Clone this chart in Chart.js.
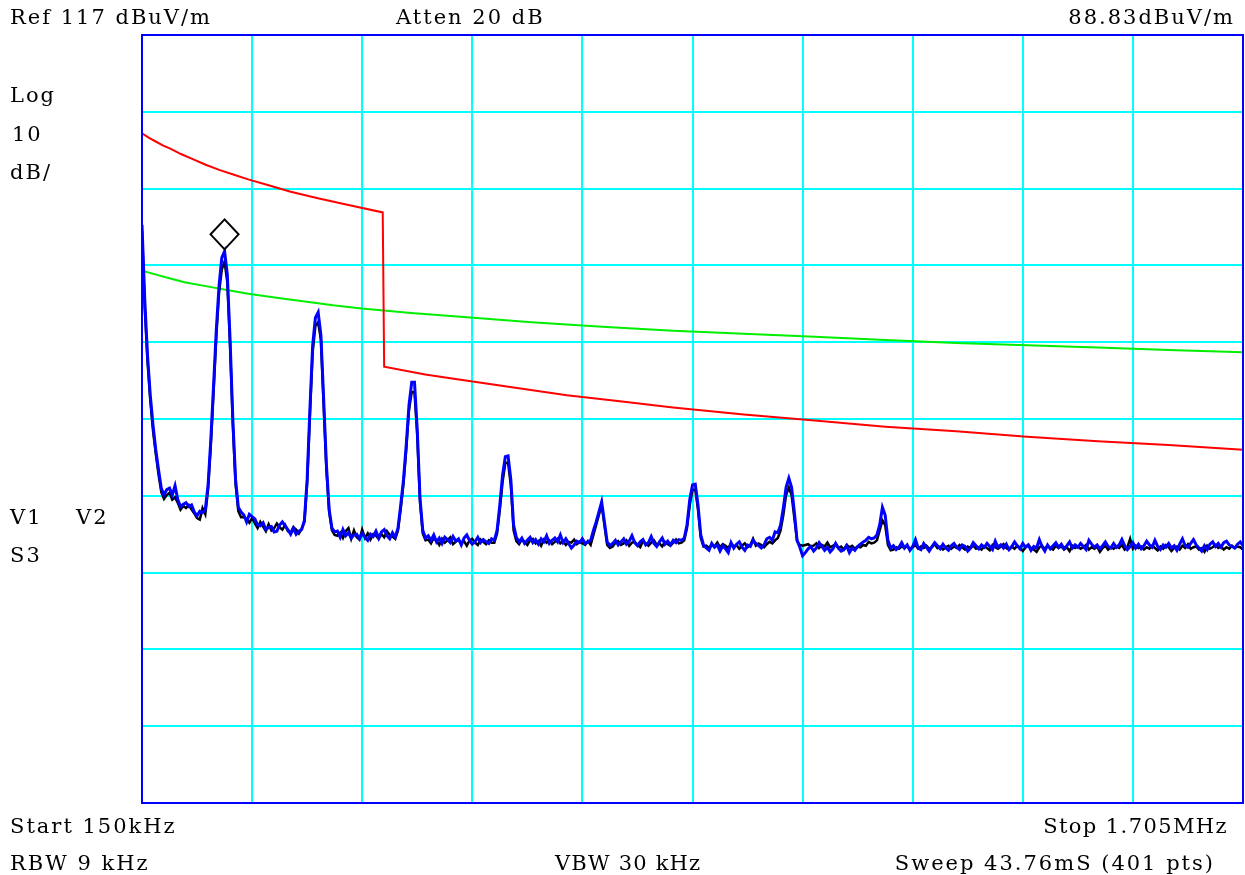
<!DOCTYPE html>
<html>
<head>
<meta charset="utf-8">
<title>Conducted emission scan</title>
<script src="https://cdn.jsdelivr.net/npm/chart.js@4.4.0/dist/chart.umd.min.js"></script>
<style>
  body { margin: 0; background: #fff; }
  #wrap { position: relative; width: 1245px; height: 875px; }
  #plot { position: absolute; left: 0; top: 0; }
  .lbl { position: absolute; font-family: "DejaVu Serif", serif; font-size: 21px; line-height: 21px;
         letter-spacing: 2px; white-space: pre; color: #000; }
</style>
</head>
<body>
<div id="wrap">
  <canvas id="plot" width="1245" height="875"></canvas>
  <div class="lbl" style="left:10px;top:7px">Ref 117 dBuV/m</div>
  <div class="lbl" style="left:396px;top:7px">Atten 20 dB</div>
  <div class="lbl" style="right:10px;top:7px">88.83dBuV/m</div>
  <div class="lbl" style="left:10px;top:85px">Log</div>
  <div class="lbl" style="left:12px;top:124px">10</div>
  <div class="lbl" style="left:10px;top:162px">dB/</div>
  <div class="lbl" style="left:10px;top:507px">V1</div>
  <div class="lbl" style="left:76px;top:507px">V2</div>
  <div class="lbl" style="left:10px;top:545px">S3</div>
  <div class="lbl" style="left:10px;top:816px">Start 150kHz</div>
  <div class="lbl" style="right:17px;top:816px;letter-spacing:1.4px">Stop 1.705MHz</div>
  <div class="lbl" style="left:10px;top:853px">RBW 9 kHz</div>
  <div class="lbl" style="left:555px;top:853px;letter-spacing:1.2px">VBW 30 kHz</div>
  <div class="lbl" style="right:30px;top:853px">Sweep 43.76mS (401 pts)</div>
</div>
<script>
// sweep settings (kHz) and display range (dBuV/m)
const startKHz = 150;
const stopKHz = 1705;
const sweepPts = 401;
const refLevel = 117;
const bottomLevel = 17;

// vertical grid lines: 10 divisions across the span
const gridFreqs = [150, 305.5, 461, 616.5, 772, 927.5, 1083, 1238.5, 1394, 1549.5, 1705];

// marker on the first harmonic
const markerIndex = 30;
const markerLevel = 88.83;

// trace 2 (blue), one value per sweep point
const trace2 = [
  92.3, 82.5, 75.3, 70.1, 66.2, 63.0, 60.4, 58.0, 57.1,
  57.8, 58.0, 57.1, 58.3, 56.5, 55.6, 55.9, 56.1, 55.6, 55.8, 54.9, 54.4, 55.0, 54.8,
  55.2, 58.4, 64.3, 71.4, 78.6, 84.4, 88.0, 88.83, 85.8, 77.3, 66.9, 59.1, 55.5, 54.9,
  54.5, 53.6, 54.6, 54.3, 54.0, 53.2, 53.1, 53.5, 52.6, 52.9, 53.0, 52.3, 52.4, 53.2, 53.6, 53.1, 52.6, 52.0, 52.8, 52.0, 52.4, 52.6,
  53.8, 59.1, 68.2, 76.6, 80.2, 80.9, 77.9, 69.5, 61.0, 55.2, 52.8, 52.3,
  52.4, 51.6, 52.6, 51.8, 52.2, 51.5, 51.9, 52.0, 51.4, 52.1, 51.6, 51.2, 52.0, 51.7, 52.4, 51.5, 52.3, 52.6, 51.8, 51.4, 52.2,
  51.6, 52.8, 55.8, 59.1, 63.6, 68.8, 71.8, 71.8, 65.6, 56.7, 52.5, 51.5,
  51.8, 51.2, 51.9, 51.0, 51.5, 50.8, 51.6, 51.3, 50.9, 51.7, 51.1, 51.4, 50.6, 51.5, 51.9, 51.2, 50.7, 51.0, 51.6, 50.9, 51.3, 51.0, 50.8, 51.4,
  51.2, 52.5, 55.8, 59.7, 62.1, 62.2, 59.1, 53.2, 51.6,
  51.0, 51.5, 50.8, 51.2, 51.6, 50.9, 51.3, 50.7, 51.4, 51.0, 51.8, 50.8, 51.2, 51.5, 51.0, 51.9, 50.9, 51.4, 50.8, 50.2, 50.6, 51.1, 50.9, 51.4, 50.8, 51.0,
  51.2, 52.5, 53.6, 54.9, 56.2, 53.6, 51.0, 50.5,
  50.8, 51.2, 50.6, 51.0, 51.4, 50.7, 51.1, 51.8, 50.9, 50.5, 51.0, 51.3, 50.6, 50.9, 51.7, 50.8, 50.4, 51.0, 51.5, 50.7, 51.1, 50.6, 51.2, 50.9, 51.3,
  51.2, 51.5, 53.2, 56.5, 58.4, 58.5, 55.8, 51.9, 50.6,
  50.2, 49.9, 50.8, 50.3, 50.6, 49.8, 50.5, 50.1, 49.6, 50.9, 50.2, 50.7, 51.0, 50.3, 49.9, 50.6, 50.4, 51.2, 50.8, 50.5, 50.2, 50.6, 51.4, 51.6,
  51.2, 52.3, 52.2, 53.2, 55.4, 58.1, 59.3, 58.1, 54.9, 51.2, 50.3, 49.2,
  49.6, 50.1, 50.4, 49.8, 50.2, 50.9, 50.4, 49.9, 50.3, 49.7, 50.1, 50.8, 50.2, 49.8, 50.0, 50.5, 49.6, 50.2, 49.9, 50.4, 50.7, 51.0, 51.2, 51.6, 51.4,
  51.5, 51.9, 53.2, 55.5, 54.5, 51.2, 50.2,
  50.5, 50.0, 50.3, 50.9, 50.2, 50.6, 49.9, 50.4, 51.3, 50.2,
  50.0, 50.8, 50.3, 49.8, 50.4, 50.9, 50.5, 50.1, 50.7, 50.2,
  49.9, 50.5, 50.8, 50.3, 50.0, 50.6, 50.4, 49.8, 50.2, 50.9,
  50.5, 50.1, 50.6, 50.3, 50.8, 50.4, 50.0, 51.1, 50.3, 50.6,
  50.2, 50.7, 50.0, 50.4, 51.0, 50.5, 50.1, 50.8, 50.3, 50.6,
  49.9, 50.4, 50.2, 51.3, 50.4, 49.8, 50.6, 50.1, 50.5, 50.9,
  50.3, 50.7, 50.1, 50.5, 51.0, 50.2, 50.6, 50.3, 50.8, 50.4,
  50.0, 51.2, 50.7, 50.3, 50.6, 50.1, 50.5, 51.0, 50.4, 50.2,
  50.8, 50.3, 50.6, 51.3, 50.5, 50.0, 50.4, 50.9, 50.2, 50.7,
  50.1, 50.5, 51.1, 50.6, 50.3, 51.2, 50.4, 50.0, 50.6, 50.3,
  50.8, 50.2, 50.5, 49.9, 50.7, 51.4, 50.5, 50.3, 50.8, 51.3,
  50.6, 50.2, 49.8, 50.5, 50.0, 50.7, 51.0, 50.4, 50.8, 50.3,
  50.9, 51.1, 50.6, 50.4, 50.2, 50.7, 51.0, 50.5
];

// trace 1 (black)
const trace1 = [
  91.5, 81.5, 74.5, 69.5, 65.5, 62.5, 59.8, 57.5, 56.6,
  57.1, 57.4, 56.5, 56.8, 56.1, 55.2, 55.7, 55.4, 55.8, 55.2, 54.7, 54.1, 53.9, 55.4,
  54.6, 57.8, 63.5, 70.5, 77.8, 83.5, 86.5, 87.5, 84.8, 76.5, 66.3, 58.5, 55.0, 54.2,
  54.2, 54.0, 53.5, 54.1, 53.4, 52.8, 53.6, 53.0, 52.4, 53.3, 52.5, 52.8, 53.4, 52.9, 52.6, 53.2, 52.4, 52.2, 52.9, 52.6, 52.1, 52.7,
  53.6, 58.7, 67.5, 75.7, 79.1, 79.6, 77.3, 68.8, 60.4, 54.9, 52.5, 51.9,
  51.8, 52.2, 51.5, 52.4, 52.8, 51.4, 52.5, 51.6, 51.3, 52.6, 51.5, 52.1, 51.3, 52.0, 51.8, 51.4, 52.0, 51.6, 52.4, 51.9, 51.7,
  51.4, 52.5, 55.3, 58.6, 63.0, 68.2, 70.5, 70.5, 64.9, 56.2, 52.1, 51.2,
  51.3, 50.8, 51.5, 51.1, 50.6, 51.4, 50.9, 51.2, 51.6, 50.7, 51.0, 51.3, 50.8, 51.1, 50.5, 51.2, 51.4, 50.9, 50.6, 51.3, 51.0, 50.7, 51.2, 50.9,
  50.9, 52.1, 55.2, 58.8, 61.3, 61.3, 58.4, 52.5, 51.1,
  50.7, 51.3, 51.0, 50.6, 51.2, 51.4, 50.8, 51.1, 50.5, 51.3, 50.9, 51.2, 50.7, 51.0, 51.4, 50.8, 51.1, 50.6, 51.0, 50.9, 51.3, 50.7, 51.0, 50.8, 50.6, 51.1,
  50.6, 51.9, 53.2, 54.5, 55.8, 53.2, 50.6, 50.2,
  50.4, 50.9, 51.1, 50.6, 50.8, 51.2, 50.5, 50.9, 51.0, 50.6, 50.3, 51.1, 50.8, 50.5, 50.9, 51.2, 50.6, 50.8, 50.4, 51.0, 50.7, 50.5, 50.9, 51.3, 50.8,
  50.9, 51.2, 52.8, 55.8, 57.8, 57.8, 55.2, 51.5, 50.4,
  50.5, 50.2, 50.6, 50.4, 50.9, 50.3, 50.7, 50.5, 50.2, 50.8, 50.4, 50.6, 50.1, 50.5, 50.8, 50.3, 50.6, 51.4, 50.5, 50.8, 50.6, 50.3, 50.7, 51.0,
  50.8, 51.2, 51.5, 52.5, 54.5, 57.1, 58.1, 57.1, 54.1, 51.1, 50.6, 50.5,
  50.6, 50.7, 50.4, 50.5, 50.8, 50.2, 50.6, 50.4, 50.9, 50.3, 50.5, 50.7, 50.2, 50.4, 50.0, 50.6, 50.3, 50.5, 50.1, 50.4, 50.3, 50.6, 50.5, 51.0, 50.8,
  50.9, 51.2, 52.5, 53.8, 53.2, 50.6, 49.9,
  50.0, 50.3, 50.1, 50.4, 50.2, 50.5, 50.0, 50.3, 50.6, 50.1,
  50.4, 50.2, 50.5, 50.1, 50.3, 50.7, 50.2, 50.4, 50.0, 50.3,
  50.5, 50.1, 50.4, 50.2, 50.6, 50.3, 50.0, 50.4, 50.2, 50.5,
  50.1, 50.3, 50.0, 50.4, 50.2, 49.9, 50.6, 50.3, 50.1, 50.4,
  50.7, 50.2, 50.0, 50.4, 50.1, 50.5, 50.2, 49.8, 50.3, 50.6,
  50.2, 50.0, 49.7, 50.3, 50.5, 50.1, 50.4, 50.2, 50.0, 50.5,
  50.2, 50.4, 50.0, 50.3, 49.8, 50.5, 50.2, 50.4, 50.1, 50.3,
  50.6, 50.0, 50.3, 50.1, 50.4, 49.7, 50.2, 50.5, 50.0, 50.3,
  50.1, 50.4, 50.2, 50.6, 50.0, 50.3, 51.4, 50.1, 50.5, 50.2,
  50.4, 50.0, 50.3, 50.1, 50.5, 50.2, 49.9, 50.4, 50.1, 50.6,
  50.3, 49.8, 50.2, 50.4, 50.0, 50.5, 50.2, 50.7, 50.1, 50.3,
  50.4, 50.0, 50.2, 49.7, 50.5, 50.1, 50.3, 50.6, 50.2, 50.4,
  50.0, 50.3, 50.1, 50.5, 50.2, 50.4, 50.3, 50.0
];

// limit lines: frequency (kHz) and level (dBuV/m)
const redFreq = [150, 160, 170, 180, 190, 205, 220, 240, 260, 280, 300, 330, 360, 400, 440, 490,
                 492, 550, 600, 675, 750, 825, 900, 1000, 1100, 1200, 1300, 1400, 1500, 1600, 1705];
const redLevel = [104.2, 103.6, 103.1, 102.6, 102.2, 101.5, 100.9, 100.1, 99.4, 98.8, 98.2, 97.4, 96.6, 95.7, 94.9, 93.9,
                  73.8, 72.8, 72.1, 71.1, 70.1, 69.3, 68.5, 67.6, 66.8, 66.0, 65.4, 64.7, 64.1, 63.6, 63.0];
const greenFreq = [150, 170, 190, 210, 240, 270, 300, 340, 380, 420, 460, 530, 600, 700, 800,
                   900, 1000, 1100, 1200, 1300, 1400, 1500, 1600, 1705];
const greenLevel = [86.3, 85.8, 85.3, 84.8, 84.3, 83.8, 83.3, 82.8, 82.3, 81.8, 81.4, 80.8, 80.3, 79.6, 79.0,
                    78.5, 78.1, 77.7, 77.3, 76.9, 76.6, 76.3, 76.0, 75.7];

// frequency of each sweep point
const sweepFreq = [];
for (let i = 0; i < sweepPts; i++) {
  sweepFreq.push(startKHz + i * (stopKHz - startKHz) / (sweepPts - 1));
}

function toPoints(xs, ys) {
  return ys.map((y, i) => ({ x: xs[i], y: y }));
}

// blue frame round the plot and the marker diamond above the peak
const framePlugin = {
  id: 'frame',
  afterDatasetsDraw(chart) {
    const ctx = chart.ctx;
    const a = chart.chartArea;
    const xs = chart.scales.x, ys = chart.scales.y;
    ctx.save();
    const mx = xs.getPixelForValue(sweepFreq[markerIndex]);
    const my = ys.getPixelForValue(markerLevel) - 17;
    ctx.strokeStyle = '#000';
    ctx.lineWidth = 2;
    ctx.beginPath();
    ctx.moveTo(mx, my - 15);
    ctx.lineTo(mx + 14, my);
    ctx.lineTo(mx, my + 15);
    ctx.lineTo(mx - 14, my);
    ctx.closePath();
    ctx.stroke();
    ctx.strokeStyle = '#0000ff';
    ctx.lineWidth = 2;
    ctx.strokeRect(a.left, a.top, a.right - a.left, a.bottom - a.top);
    ctx.restore();
  }
};

const gridStyle = { color: '#00ffff', lineWidth: 2, drawTicks: false };

const config = {
  type: 'line',
  data: {
    datasets: [
      { label: 'Trace 2', data: toPoints(sweepFreq, trace2), borderColor: '#0000ff', borderWidth: 3 },
      { label: 'Trace 1', data: toPoints(sweepFreq, trace1), borderColor: '#000000', borderWidth: 2.5 },
      { label: 'Limit QP', data: toPoints(redFreq, redLevel), borderColor: '#ff0000', borderWidth: 2 },
      { label: 'Limit AV', data: toPoints(greenFreq, greenLevel), borderColor: '#00ee00', borderWidth: 2 }
    ]
  },
  options: {
    responsive: false,
    animation: false,
    elements: { point: { radius: 0 }, line: { tension: 0 } },
    layout: { padding: { left: 142, right: 2, top: 35, bottom: 72 } },
    plugins: { legend: { display: false }, tooltip: { enabled: false } },
    scales: {
      x: {
        type: 'linear', min: startKHz, max: stopKHz,
        afterBuildTicks: (s) => { s.ticks = gridFreqs.map(v => ({ value: v })); },
        ticks: { display: false },
        grid: gridStyle,
        border: { display: false }
      },
      y: {
        min: bottomLevel, max: refLevel,
        ticks: { display: false, stepSize: 10 },
        grid: gridStyle,
        border: { display: false }
      }
    }
  },
  plugins: [framePlugin]
};

const ctx = document.getElementById('plot').getContext('2d');
const chart = new Chart(ctx, config);
</script>
</body>
</html>
